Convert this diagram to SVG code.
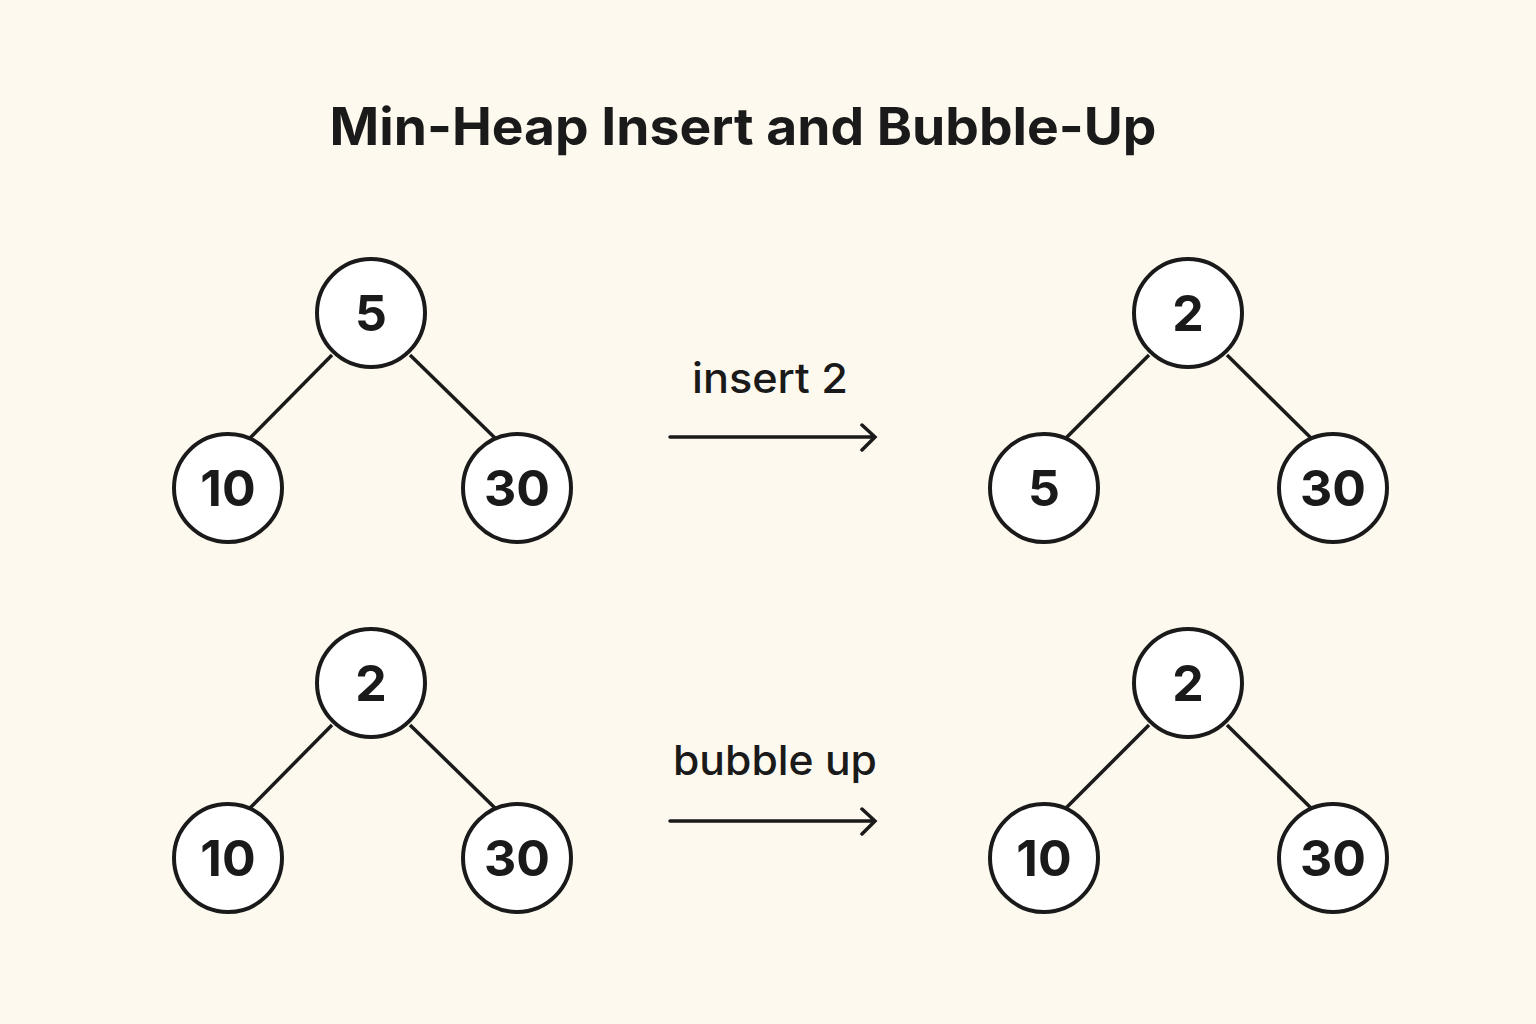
<svg xmlns="http://www.w3.org/2000/svg" width="1536" height="1024" viewBox="0 0 1536 1024">
<style>
.bg{fill:#fdf9ef}
.node circle{fill:#ffffff;stroke:#1a1a1a;stroke-width:4}
.node text{font-family:Inter,"Liberation Sans",sans-serif;font-size:50px;font-weight:700;fill:#1a1a1a;text-anchor:middle}
.edge{stroke:#1a1a1a;stroke-width:3.5;fill:none}
.arrow{stroke:#1a1a1a;stroke-width:3.5;fill:none;stroke-linecap:round}
.label{font-family:Inter,"Liberation Sans",sans-serif;font-size:41px;font-weight:500;fill:#1a1a1a;text-anchor:middle}
.title{font-family:Inter,"Liberation Sans",sans-serif;font-size:52px;font-weight:700;fill:#1a1a1a;text-anchor:middle}
</style>
<rect class="bg" x="0" y="0" width="1536" height="1024"/>
<text class="title" x="743" y="145" textLength="827" lengthAdjust="spacingAndGlyphs">Min-Heap Insert and Bubble-Up</text>
<g id="connectors">
<line class="edge" x1="332" y1="355" x2="250" y2="438"/>
<line class="edge" x1="410" y1="355" x2="495" y2="438"/>
<line class="edge" x1="1149" y1="355" x2="1066" y2="438"/>
<line class="edge" x1="1227" y1="355" x2="1311" y2="438"/>
<line class="edge" x1="332" y1="725" x2="250" y2="808"/>
<line class="edge" x1="410" y1="725" x2="495" y2="808"/>
<line class="edge" x1="1149" y1="725" x2="1066" y2="808"/>
<line class="edge" x1="1227" y1="725" x2="1311" y2="808"/>
<g id="arrow-insert">
<path class="arrow" d="M670 437 H874 M862 425 L875 437 L862 450"/>
<text class="label" x="770" y="393" textLength="156" lengthAdjust="spacingAndGlyphs">insert 2</text>
</g>
<g id="arrow-bubble">
<path class="arrow" d="M670 821 H874 M862 809 L875 821 L862 834"/>
<text class="label" x="775" y="775" textLength="204" lengthAdjust="spacingAndGlyphs">bubble up</text>
</g>
</g>
<g id="n1" class="node"><circle cx="371" cy="313" r="54"/><text x="371" y="331">5</text></g>
<g id="n2" class="node"><circle cx="228" cy="488" r="54"/><text x="228" y="506">10</text></g>
<g id="n3" class="node"><circle cx="517" cy="488" r="54"/><text x="517" y="506">30</text></g>
<g id="n4" class="node"><circle cx="1188" cy="313" r="54"/><text x="1188" y="331">2</text></g>
<g id="n5" class="node"><circle cx="1044" cy="488" r="54"/><text x="1044" y="506">5</text></g>
<g id="n6" class="node"><circle cx="1333" cy="488" r="54"/><text x="1333" y="506">30</text></g>
<g id="n7" class="node"><circle cx="371" cy="683" r="54"/><text x="371" y="701">2</text></g>
<g id="n8" class="node"><circle cx="228" cy="858" r="54"/><text x="228" y="876">10</text></g>
<g id="n9" class="node"><circle cx="517" cy="858" r="54"/><text x="517" y="876">30</text></g>
<g id="n10" class="node"><circle cx="1188" cy="683" r="54"/><text x="1188" y="701">2</text></g>
<g id="n11" class="node"><circle cx="1044" cy="858" r="54"/><text x="1044" y="876">10</text></g>
<g id="n12" class="node"><circle cx="1333" cy="858" r="54"/><text x="1333" y="876">30</text></g>
</svg>
